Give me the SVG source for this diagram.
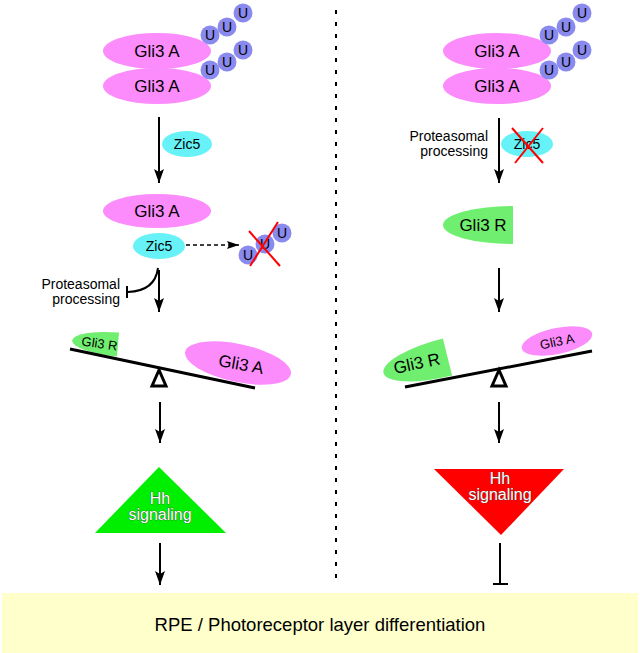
<svg xmlns="http://www.w3.org/2000/svg" width="640" height="653" viewBox="0 0 640 653">
<defs>
<marker id="ah" markerUnits="userSpaceOnUse" markerWidth="15" markerHeight="11" refX="14" refY="5" orient="auto">
<path d="M0,0 L14,5 L0,10 L3,5 Z" fill="#000"/>
</marker>
<marker id="ahs" markerUnits="userSpaceOnUse" markerWidth="13" markerHeight="9" refX="12" refY="4" orient="auto">
<path d="M0,0 L12,4 L0,8 L2,4 Z" fill="#000"/>
</marker>
</defs>
<style>
text{font-family:"Liberation Sans",Arial,sans-serif;fill:#000;text-anchor:middle}
.gliA{fill:#fc8cfc}
.gliR{fill:#70ee70}
.zic{fill:#66f2f7}
.ub{fill:#8a8aee}
.u{font-size:14px}
.t17{font-size:17px}
.t14{font-size:14px}
.hh{font-size:16px;fill:#fff;stroke:#444;stroke-width:0.7;paint-order:stroke}
.arr{stroke:#000;stroke-width:2;fill:none;marker-end:url(#ah)}
.cross{stroke:#ff0000;stroke-width:2}
.seesaw{stroke:#000;stroke-width:3;fill:none}
.fulcrum{stroke:#000;stroke-width:3;fill:#fff;stroke-linejoin:miter}
</style>
<rect id="band" x="2" y="593" width="636" height="60" fill="#ffffcc"/>
<text x="320" y="631" style="font-size:18.5px">RPE / Photoreceptor layer differentiation</text>

<line id="divider" x1="336" y1="10" x2="336" y2="578" stroke="#000" stroke-width="2" stroke-dasharray="4 8"/>

<!-- LEFT -->
<g id="L-gli3a-top">
<ellipse class="gliA" cx="157" cy="51" rx="54" ry="18"/>
<text class="t17" x="157" y="57">Gli3 A</text>
<ellipse class="gliA" cx="157" cy="86" rx="54" ry="18"/>
<text class="t17" x="157" y="92">Gli3 A</text>
</g>
<g id="L-ubiq">
<circle class="ub" cx="210" cy="35" r="9.5"/><text class="u" x="210" y="40">U</text>
<circle class="ub" cx="227" cy="27" r="9.5"/><text class="u" x="227" y="32">U</text>
<circle class="ub" cx="243" cy="13" r="9.5"/><text class="u" x="243" y="18">U</text>
<circle class="ub" cx="210" cy="70" r="9.5"/><text class="u" x="210" y="75">U</text>
<circle class="ub" cx="227" cy="62" r="9.5"/><text class="u" x="227" y="67">U</text>
<circle class="ub" cx="243" cy="50" r="9.5"/><text class="u" x="243" y="55">U</text>
</g>
<g id="L-zic5-a">
<ellipse class="zic" cx="187" cy="144" rx="25" ry="13"/>
<text class="t14" x="187" y="149">Zic5</text>
</g>
<g id="L-complex">
<ellipse class="gliA" cx="157" cy="211" rx="54" ry="17"/>
<text class="t17" x="157" y="217">Gli3 A</text>
<ellipse class="zic" cx="159" cy="246" rx="26" ry="13"/>
<text class="t14" x="159" y="251">Zic5</text>
</g>
<g id="L-ubiq-crossed">
<circle class="ub" cx="248" cy="255" r="9.5"/><text class="u" x="248" y="260">U</text>
<circle class="ub" cx="265" cy="244" r="9.5"/><text class="u" x="265" y="249">U</text>
<circle class="ub" cx="282" cy="233" r="9.5"/><text class="u" x="282" y="238">U</text>
<line class="cross" x1="249" y1="231" x2="280" y2="266"/>
<line class="cross" x1="250" y1="266" x2="278" y2="222"/>
</g>
<g id="L-proteasomal">
<text class="t14" x="120" y="289" style="text-anchor:end">Proteasomal</text>
<text class="t14" x="120" y="304" style="text-anchor:end">processing</text>
</g>
<g id="L-seesaw">
<path class="gliR" d="M0,-12 A46,12 0 0 0 0,12 Z" transform="translate(118,344.5) rotate(5)"/>
<text x="0" y="0" style="font-size:13px" transform="translate(99,348) rotate(8)">Gli3 R</text>
<ellipse class="gliA" cx="0" cy="0" rx="54" ry="19" transform="translate(238,363) rotate(12)"/>
<text class="t17" x="0" y="0" transform="translate(240,370) rotate(10)">Gli3 A</text>
<line class="seesaw" x1="70" y1="349" x2="255" y2="388"/>
<path class="fulcrum" d="M159,370 L152,386 L166,386 Z"/>
</g>
<g id="L-hh">
<path d="M159,467 L226,533 L95,533 Z" fill="#00ee00"/>
<text class="hh" x="160" y="504">Hh</text>
<text class="hh" x="160" y="520">signaling</text>
</g>

<!-- RIGHT -->
<g id="R-gli3a-top">
<ellipse class="gliA" cx="497" cy="51" rx="54" ry="18"/>
<text class="t17" x="497" y="57">Gli3 A</text>
<ellipse class="gliA" cx="497" cy="86" rx="54" ry="18"/>
<text class="t17" x="497" y="92">Gli3 A</text>
</g>
<g id="R-ubiq">
<circle class="ub" cx="549" cy="35" r="9.5"/><text class="u" x="549" y="40">U</text>
<circle class="ub" cx="566" cy="27" r="9.5"/><text class="u" x="566" y="32">U</text>
<circle class="ub" cx="582" cy="13" r="9.5"/><text class="u" x="582" y="18">U</text>
<circle class="ub" cx="549" cy="70" r="9.5"/><text class="u" x="549" y="75">U</text>
<circle class="ub" cx="566" cy="62" r="9.5"/><text class="u" x="566" y="67">U</text>
<circle class="ub" cx="582" cy="50" r="9.5"/><text class="u" x="582" y="55">U</text>
</g>
<g id="R-proteasomal">
<text class="t14" x="488" y="141" style="text-anchor:end">Proteasomal</text>
<text class="t14" x="488" y="156" style="text-anchor:end">processing</text>
</g>
<g id="R-zic5-crossed">
<ellipse class="zic" cx="527" cy="144" rx="26" ry="13"/>
<text class="t14" x="527" y="149">Zic5</text>
<line class="cross" x1="512" y1="128" x2="543" y2="163"/>
<line class="cross" x1="543" y1="128" x2="515" y2="163"/>
</g>
<g id="R-gli3r">
<path class="gliR" d="M513,206 A70,19 0 0 0 513,244 Z"/>
<text class="t17" x="483" y="231">Gli3 R</text>
</g>
<g id="R-seesaw">
<path class="gliR" d="M0,-19 A66,19 0 0 0 0,19 Z" transform="translate(447.5,357) rotate(-14)"/>
<text class="t17" x="0" y="0" transform="translate(418,369) rotate(-12)">Gli3 R</text>
<ellipse class="gliA" cx="0" cy="0" rx="36" ry="13" transform="translate(557,341) rotate(-12)"/>
<text x="0" y="0" style="font-size:13px" transform="translate(558,346) rotate(-12)">Gli3 A</text>
<line class="seesaw" x1="405" y1="387" x2="592" y2="351"/>
<path class="fulcrum" d="M499,370 L492,386 L506,386 Z"/>
</g>
<g id="R-hh">
<path d="M434,469 L564,469 L501,535 Z" fill="#ff0000"/>
<text class="hh" x="500" y="484">Hh</text>
<text class="hh" x="500" y="500">signaling</text>
</g>

<g id="connectors">
<line class="arr" x1="159" y1="117" x2="159" y2="183"/>
<line x1="186" y1="245" x2="239" y2="245" stroke="#000" stroke-width="1.5" stroke-dasharray="4 3" marker-end="url(#ahs)"/>
<path d="M158,268 Q155,291 128,292" stroke="#000" stroke-width="2" fill="none"/>
<line x1="127" y1="286" x2="127" y2="298" stroke="#000" stroke-width="2"/>
<line class="arr" x1="159" y1="270" x2="159" y2="312"/>
<line class="arr" x1="160" y1="402" x2="160" y2="443"/>
<line class="arr" x1="160" y1="543" x2="160" y2="585"/>
<line class="arr" x1="499" y1="118" x2="499" y2="183"/>
<line class="arr" x1="499" y1="268" x2="499" y2="312"/>
<line class="arr" x1="499" y1="402" x2="499" y2="443"/>
<line x1="500" y1="543" x2="500" y2="584" stroke="#000" stroke-width="2"/>
<line x1="493" y1="584" x2="508" y2="584" stroke="#000" stroke-width="2"/>
</g>
</svg>
